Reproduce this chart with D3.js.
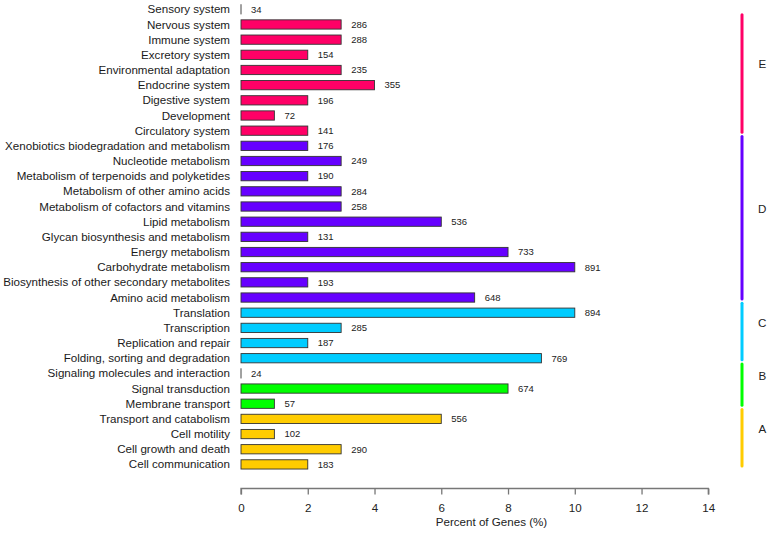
<!DOCTYPE html>
<html>
<head>
<meta charset="utf-8">
<script src="https://cdn.jsdelivr.net/npm/d3@7"></script>
<style>
	body { margin: 0; background: #fff; }
	svg { display: block; font-family: "Liberation Sans", Arial, sans-serif; }
</style>
</head>
<body>
<div id="chart"></div>
<script>
// categories top to bottom
const categories = [
	"Sensory system", "Nervous system", "Immune system", "Excretory system",
	"Environmental adaptation", "Endocrine system", "Digestive system", "Development",
	"Circulatory system",
	"Xenobiotics biodegradation and metabolism", "Nucleotide metabolism",
	"Metabolism of terpenoids and polyketides", "Metabolism of other amino acids",
	"Metabolism of cofactors and vitamins", "Lipid metabolism",
	"Glycan biosynthesis and metabolism", "Energy metabolism", "Carbohydrate metabolism",
	"Biosynthesis of other secondary metabolites", "Amino acid metabolism",
	"Translation", "Transcription", "Replication and repair", "Folding, sorting and degradation",
	"Signaling molecules and interaction", "Signal transduction", "Membrane transport",
	"Transport and catabolism", "Cell motility", "Cell growth and death", "Cell communication"
];
const counts = [34, 286, 288, 154, 235, 355, 196, 72, 141,
	176, 249, 190, 284, 258, 536, 131, 733, 891, 193, 648,
	894, 285, 187, 769,
	24, 674, 57,
	556, 102, 290, 183];
const percents = [0, 3, 3, 2, 3, 4, 2, 1, 2,
	2, 3, 2, 3, 3, 6, 2, 8, 10, 2, 7,
	10, 3, 2, 9,
	0, 8, 1,
	6, 1, 3, 2];
const groupOf = [
	"E", "E", "E", "E", "E", "E", "E", "E", "E",
	"D", "D", "D", "D", "D", "D", "D", "D", "D", "D", "D",
	"C", "C", "C", "C",
	"B", "B", "B",
	"A", "A", "A", "A"
];
const groupNames = ["E", "D", "C", "B", "A"];
const groupColors = ["#ff0066", "#6600ff", "#00ccff", "#00ff00", "#ffcc00"];
const xTicks = [0, 2, 4, 6, 8, 10, 12, 14];

const width = 770;
const height = 533;
const color = d3.scaleOrdinal().domain(groupNames).range(groupColors);

const x = d3.scaleLinear().domain([0, 14]).range([241, 708.3]);
const y = d3.scalePoint().domain(categories).range([9.3, 464.4]);
const step = y.step();
const barH = step * 0.61;
const lineX = 742;
const fs = 11.6;

const svg = d3.create("svg").attr("width", width).attr("height", height);
d3.select("#chart").append(() => svg.node());

const rows = categories.map((c, i) => ({ name: c, count: counts[i], pct: percents[i], group: groupOf[i] }));

// bars
svg.append("g")
	.selectAll("rect")
	.data(rows)
	.join("rect")
	.attr("x", x(0))
	.attr("y", (d) => y(d.name) - barH / 2)
	.attr("width", (d) => Math.max(x(d.pct) - x(0), 0.01))
	.attr("height", (d) => barH)
	.attr("fill", (d) => color(d.group))
	.attr("stroke", "#333")
	.attr("stroke-width", 0.9);

// count labels
svg.append("g")
	.selectAll("text")
	.data(rows)
	.join("text")
	.attr("x", (d) => x(d.pct) + 10)
	.attr("y", (d) => y(d.name))
	.attr("dy", "0.35em")
	.attr("font-size", 9.5)
	.attr("fill", "#222")
	.text((d) => d.count);

// category labels
svg.append("g")
	.selectAll("text")
	.data(rows)
	.join("text")
	.attr("x", 230)
	.attr("y", (d) => y(d.name))
	.attr("dy", "0.35em")
	.attr("text-anchor", "end")
	.attr("font-size", fs)
	.attr("fill", "#1a1a1a")
	.text((d) => d.name)
	.each(function () {
		// keep the longest labels inside the left edge, as in the reference
		const w = this.getComputedTextLength();
		if (w > 227) this.setAttribute("textLength", 227);
	});

// x axis
const axisY = 488.5;
const ax = svg.append("g")
	.attr("transform", `translate(0,${axisY})`)
	.call(d3.axisBottom(x).tickValues(xTicks).tickSize(6).tickPadding(9).tickFormat(d3.format("d")));
ax.select(".domain").attr("stroke", "#777").attr("stroke-width", 1.3).attr("d", `M${x(0)},6V0H${x(14)}V6`);
ax.selectAll(".tick line").attr("stroke", "#777").attr("stroke-width", 1.3);
ax.selectAll(".tick text")
	.attr("font-size", fs)
	.attr("fill", "#222")
	.attr("font-family", "Liberation Sans, Arial, sans-serif");

svg.append("text")
	.attr("x", (x(0) + lineX) / 2)
	.attr("y", 522)
	.attr("dy", "0.35em")
	.attr("text-anchor", "middle")
	.attr("font-size", fs)
	.attr("fill", "#222")
	.text("Percent of Genes (%)");

// group brackets on the right
const groups = groupNames.map((g) => {
	const members = categories.filter((c, i) => groupOf[i] === g);
	const y0 = Math.max(y(members[0]) - step * 0.62, 14.7);
	const y1 = y(members[members.length - 1]) + step * 0.1;
	return { name: g, y0, y1 };
});

const gg = svg.append("g").selectAll("g").data(groups).join("g");
gg.append("line")
	.attr("x1", lineX)
	.attr("x2", lineX)
	.attr("y1", (d) => d.y0)
	.attr("y2", (d) => d.y1)
	.attr("stroke", (d) => color(d.name))
	.attr("stroke-width", 3)
	.attr("stroke-linecap", "round");
gg.append("text")
	.attr("x", 762.3)
	.attr("y", (d) => (d.y0 + d.y1) / 2 - 9)
	.attr("dy", "0.35em")
	.attr("text-anchor", "middle")
	.attr("font-size", fs)
	.attr("fill", "#222")
	.text((d) => d.name);
</script>
</body>
</html>
